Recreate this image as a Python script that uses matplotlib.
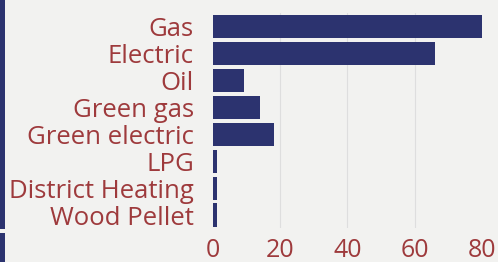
import matplotlib
matplotlib.use('Agg')
import matplotlib.pyplot as plt
from matplotlib.patches import Rectangle

categories = ['Gas', 'Electric', 'Oil', 'Green gas', 'Green electric',
              'LPG', 'District Heating', 'Wood Pellet']
values = [80, 66, 9, 14, 18, 1, 1, 1]
xticks = [0, 20, 40, 60, 80]

BG = '#f2f2f0'
NAVY = '#2c336f'
RED = '#9e3a3c'

plt.rcParams['font.family'] = ['Open Sans', 'DejaVu Sans']

fig = plt.figure(figsize=(4.98, 2.62), dpi=100, facecolor=BG)
ax = fig.add_axes([0.4284, 0.128, 0.967 - 0.4284, 0.9496 - 0.128])
ax.set_facecolor(BG)

# left edge strip
fig.patches.append(Rectangle((0, 0.125), 0.011, 0.875, transform=fig.transFigure,
                             facecolor=NAVY, edgecolor='none'))
fig.patches.append(Rectangle((0, 0), 0.011, 0.11, transform=fig.transFigure,
                             facecolor=NAVY, edgecolor='none'))

ypos = list(range(len(categories)))
ax.barh(ypos, values, height=0.86, color=NAVY, zorder=2)
ax.set_ylim(len(categories) - 0.5, -0.5)
ax.set_xlim(0, 80)
ax.set_yticks(ypos)
ax.set_yticklabels(categories, fontsize=18.5, color=RED)
ax.set_xticks(xticks)
ax.set_xticklabels([str(t) for t in xticks], fontsize=18, color=RED)
ax.tick_params(axis='x', length=0, pad=7)
ax.tick_params(axis='y', length=0, pad=14)
for t in [20, 40, 60]:
    ax.axvline(t, color='#dedede', lw=0.8, zorder=1)
for s in ax.spines.values():
    s.set_visible(False)

fig.savefig('out.png', facecolor=BG)
